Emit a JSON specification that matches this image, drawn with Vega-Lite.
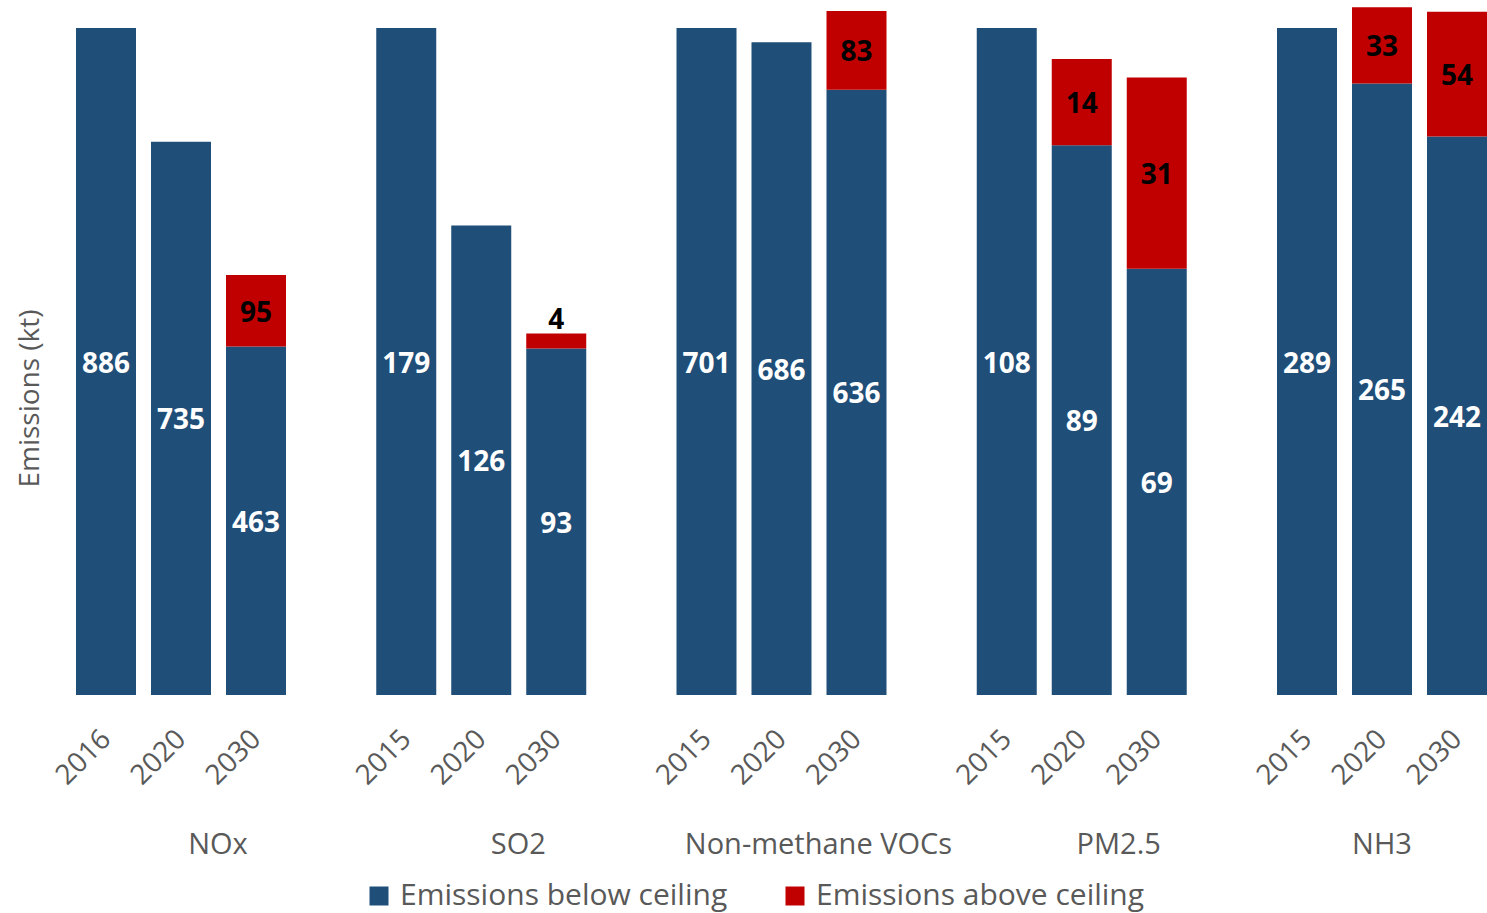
{
  "$schema": "https://vega.github.io/schema/vega-lite/v6.json",
  "autosize": {"type": "none"},
  "width": 1411,
  "height": 690,
  "padding": {"left": 76, "top": 5, "right": 0, "bottom": 218},
  "background": "white",
  "config": {"view": {"stroke": null}, "font": "Open Sans"},
  "data": {
    "values": [
      {"pollutant": "NOx", "period": "base", "year": "2016", "type": "Emissions below ceiling", "value": 886},
      {"pollutant": "NOx", "period": "2020", "year": "2020", "type": "Emissions below ceiling", "value": 735},
      {"pollutant": "NOx", "period": "2030", "year": "2030", "type": "Emissions below ceiling", "value": 463},
      {"pollutant": "NOx", "period": "2030", "year": "2030", "type": "Emissions above ceiling", "value": 95},
      {"pollutant": "SO2", "period": "base", "year": "2015", "type": "Emissions below ceiling", "value": 179},
      {"pollutant": "SO2", "period": "2020", "year": "2020", "type": "Emissions below ceiling", "value": 126},
      {"pollutant": "SO2", "period": "2030", "year": "2030", "type": "Emissions below ceiling", "value": 93},
      {"pollutant": "SO2", "period": "2030", "year": "2030", "type": "Emissions above ceiling", "value": 4},
      {"pollutant": "Non-methane VOCs", "period": "base", "year": "2015", "type": "Emissions below ceiling", "value": 701},
      {"pollutant": "Non-methane VOCs", "period": "2020", "year": "2020", "type": "Emissions below ceiling", "value": 686},
      {"pollutant": "Non-methane VOCs", "period": "2030", "year": "2030", "type": "Emissions below ceiling", "value": 636},
      {"pollutant": "Non-methane VOCs", "period": "2030", "year": "2030", "type": "Emissions above ceiling", "value": 83},
      {"pollutant": "PM2.5", "period": "base", "year": "2015", "type": "Emissions below ceiling", "value": 108},
      {"pollutant": "PM2.5", "period": "2020", "year": "2020", "type": "Emissions below ceiling", "value": 89},
      {"pollutant": "PM2.5", "period": "2020", "year": "2020", "type": "Emissions above ceiling", "value": 14},
      {"pollutant": "PM2.5", "period": "2030", "year": "2030", "type": "Emissions below ceiling", "value": 69},
      {"pollutant": "PM2.5", "period": "2030", "year": "2030", "type": "Emissions above ceiling", "value": 31},
      {"pollutant": "NH3", "period": "base", "year": "2015", "type": "Emissions below ceiling", "value": 289},
      {"pollutant": "NH3", "period": "2020", "year": "2020", "type": "Emissions below ceiling", "value": 265},
      {"pollutant": "NH3", "period": "2020", "year": "2020", "type": "Emissions above ceiling", "value": 33},
      {"pollutant": "NH3", "period": "2030", "year": "2030", "type": "Emissions below ceiling", "value": 242},
      {"pollutant": "NH3", "period": "2030", "year": "2030", "type": "Emissions above ceiling", "value": 54}
    ]
  },
  "transform": [
    {"joinaggregate": [{"op": "max", "field": "value", "as": "base"}], "groupby": ["pollutant"]},
    {"calculate": "datum.value / datum.base", "as": "share"},
    {"stack": "share", "groupby": ["pollutant", "period"], "sort": [{"field": "type", "order": "descending"}], "as": ["y0", "y1"]},
    {"calculate": "(datum.y0 + datum.y1) / 2", "as": "mid"}
  ],
  "encoding": {
    "x": {
      "field": "pollutant",
      "type": "nominal",
      "scale": {"domain": ["NOx", "SO2", "Non-methane VOCs", "PM2.5", "NH3"], "paddingInner": 0.3006, "paddingOuter": 0},
      "axis": null
    }
  },
  "layer": [
    {
      "mark": {"type": "bar"},
      "encoding": {
        "xOffset": {"field": "period", "type": "nominal", "scale": {"domain": ["base", "2020", "2030"], "paddingInner": 0.2, "paddingOuter": 0}},
        "y": {
          "field": "y0",
          "type": "quantitative",
          "scale": {"domain": [0, 1.0345], "nice": false, "zero": true},
          "axis": {
            "title": "Emissions (kt)",
            "labels": false,
            "ticks": false,
            "domain": false,
            "grid": false,
            "titleFont": "Open Sans",
            "titleFontSize": 28,
            "titleFontWeight": "normal",
            "titleColor": "#595959",
            "titleX": -46,
            "titleY": 393,
            "titleAngle": 270,
            "titleBaseline": "middle"
          }
        },
        "y2": {"field": "y1"},
        "color": {
          "field": "type",
          "type": "nominal",
          "scale": {"domain": ["Emissions below ceiling", "Emissions above ceiling"], "range": ["#1F4E79", "#C00000"]},
          "legend": {
            "title": null,
            "orient": "none",
            "legendX": 288,
            "legendY": 876,
            "direction": "horizontal",
            "symbolType": "square",
            "symbolSize": 361,
            "symbolStrokeWidth": 0,
            "labelFont": "Open Sans",
            "labelFontSize": 30,
            "labelColor": "#595959",
            "labelOffset": 6,
            "columnPadding": 52,
            "padding": 0,
            "labelLimit": 500
          }
        }
      }
    },
    {
      "transform": [{"filter": "datum.type == 'Emissions below ceiling'"}],
      "mark": {"type": "text", "angle": 315, "align": "right", "baseline": "middle", "dx": -28, "dy": 29, "fontSize": 28, "color": "#595959", "font": "Open Sans"},
      "encoding": {
        "xOffset": {"field": "period", "type": "nominal"},
        "y": {"datum": 0},
        "text": {"field": "year", "type": "nominal"}
      }
    },
    {
      "transform": [{"filter": "datum.value >= 10"}],
      "mark": {"type": "text", "fontSize": 28, "fontWeight": "bold", "baseline": "middle", "dy": 3, "font": "Open Sans"},
      "encoding": {
        "xOffset": {"field": "period", "type": "nominal"},
        "y": {"field": "mid", "type": "quantitative"},
        "text": {"field": "value", "type": "quantitative"},
        "color": {"condition": {"test": "datum.type == 'Emissions above ceiling'", "value": "#000000"}, "value": "#FFFFFF"}
      }
    },
    {
      "transform": [{"filter": "datum.value < 10"}],
      "mark": {"type": "text", "fontSize": 28, "fontWeight": "bold", "baseline": "middle", "dy": -13, "color": "#000000", "font": "Open Sans"},
      "encoding": {
        "xOffset": {"field": "period", "type": "nominal"},
        "y": {"field": "y1", "type": "quantitative"},
        "text": {"field": "value", "type": "quantitative"}
      }
    },
    {
      "transform": [{"filter": "datum.period == 'base' && datum.pollutant != 'NH3'"}],
      "mark": {"type": "text", "fontSize": 29, "baseline": "middle", "dx": 37, "dy": 150, "color": "#595959", "font": "Open Sans"},
      "encoding": {
        "y": {"datum": 0},
        "text": {"field": "pollutant", "type": "nominal"}
      }
    },
    {
      "transform": [{"filter": "datum.period == 'base' && datum.pollutant == 'NH3'"}],
      "mark": {"type": "text", "fontSize": 29, "baseline": "middle", "dx": 0, "dy": 150, "color": "#595959", "font": "Open Sans"},
      "encoding": {
        "y": {"datum": 0},
        "text": {"field": "pollutant", "type": "nominal"}
      }
    }
  ]
}
